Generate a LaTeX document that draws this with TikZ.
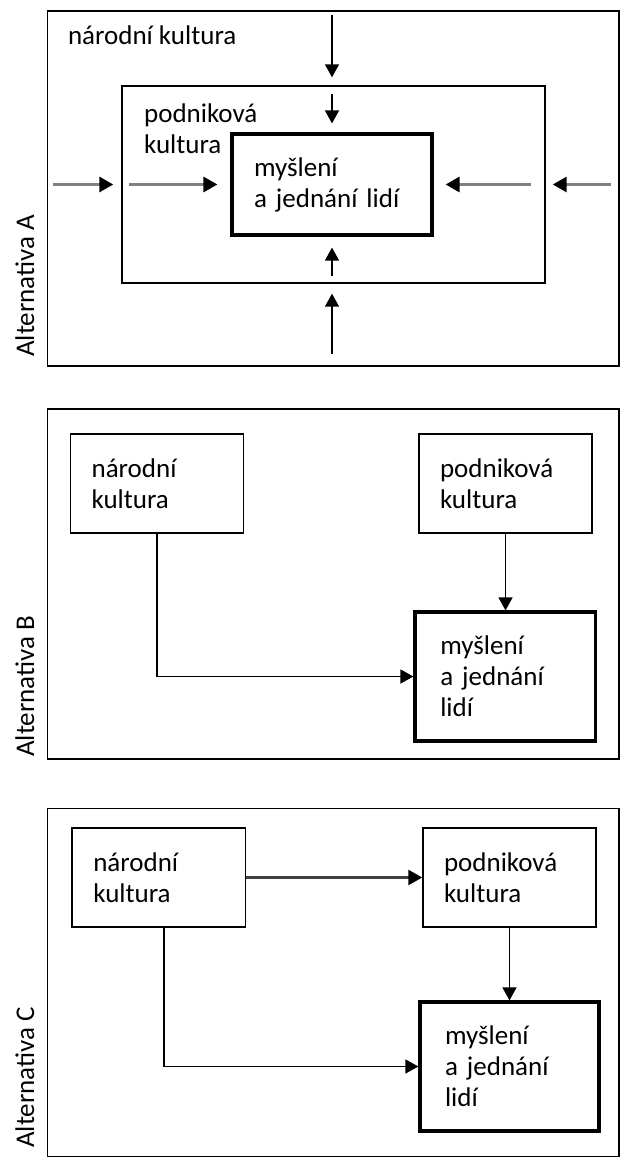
\documentclass[tikz,border=0pt]{standalone}
\usepackage{fontspec}
\setmainfont{Carlito}
\usepackage{tikz}
\usetikzlibrary{calc}
\usetikzlibrary{arrows.meta,positioning}
\tikzset{
	box/.style={draw,rectangle,line width=1.4pt,inner xsep=21pt,align=left,font=\fontsize{27}{31}\selectfont},
	thickbox/.style={box,line width=3.2pt,inner xsep=25pt},
	txt/.style={inner sep=0pt,align=left,font=\fontsize{27}{31}\selectfont},
	arr/.style={line width=1.5pt,-{Triangle[length=13pt,width=14pt]}},
	grayarr/.style={line width=3pt,color=gray,-{Triangle[length=14pt,width=15pt,color=black]}},
	alt/.style={rotate=90,anchor=base west,inner sep=0pt,font=\fontsize{27}{31}\selectfont}
}
\begin{document}
\begin{tikzpicture}[x=1pt,y=-1pt]
		\useasboundingbox (0,0) rectangle (620,1158);
		\node[box,minimum width=571.5pt,minimum height=355pt] (outerA) at (333.25,188.5) {};
		\node[box,minimum width=423pt,minimum height=197pt] (podA) at (333.5,184.5) {};
		\node[thickbox,inner xsep=22pt,minimum width=200pt,minimum height=101pt,text width=156pt] (mysA) at (332,184.5) {myšlení\\a jednání lidí};
		\node[txt,anchor=base west] (natAtxt) at ($(outerA.north west)+(21,34)$) {národní kultura};
		\node[txt,anchor=base west] (podAtxt) at ($(podA.north west)+(22.6,68)$) {podniková\\kultura};
		\node[alt] (altA) at (34,357) {Alternativa A};
		\draw[arr,shorten <=5pt,shorten >=8pt] (outerA.north -| mysA.north) -- (podA.north -| mysA.north);
		\draw[arr,shorten <=9pt,shorten >=9pt] (podA.north -| mysA.north) -- (mysA.north);
		\draw[arr,shorten <=8pt,shorten >=11pt] (podA.south -| mysA.south) -- (mysA.south);
		\draw[arr,shorten <=13pt,shorten >=10pt] (outerA.south -| mysA.south) -- (podA.south -| mysA.south);
		\draw[grayarr,shorten <=6pt,shorten >=8pt] (outerA.west |- mysA.west) -- (podA.west |- mysA.west);
		\draw[grayarr,shorten <=8pt,shorten >=13pt] (podA.west |- mysA.west) -- (mysA.west);
		\draw[grayarr,shorten <=15pt,shorten >=12pt] (podA.east |- mysA.east) -- (mysA.east);
		\draw[grayarr,shorten <=9pt,shorten >=7pt] (outerA.east |- mysA.east) -- (podA.east |- mysA.east);

		\node[box,minimum width=571.5pt,minimum height=350pt] (outerB) at (333.25,584) {};
		\node[box,minimum width=173pt,minimum height=99pt,text width=131pt] (natB) at (157.1,483.5) {národní\\kultura};
		\node[box,minimum width=173pt,minimum height=99pt,text width=131pt] (podB) at (505.5,483.5) {podniková\\kultura};
		\node[thickbox,minimum width=180.5pt,minimum height=129pt,text width=130pt] (mysB) at (505.25,676.5) {myšlení\\a jednání\\lidí};
		\node[alt] (altB) at (34,757) {Alternativa B};
		\draw[arr] (podB.south) -- (podB.south |- mysB.north);
		\draw[arr] (natB.south) |- (mysB.west);

		\node[box,minimum width=571.5pt,minimum height=348pt] (outerC) at (333.25,982.5) {};
		\node[box,minimum width=173.6pt,minimum height=99pt,text width=131pt] (natC) at (158.8,877.5) {národní\\kultura};
		\node[box,minimum width=173pt,minimum height=99pt,text width=131pt] (podC) at (509.5,877.5) {podniková\\kultura};
		\node[thickbox,minimum width=179pt,minimum height=129pt,text width=129pt] (mysC) at (509.5,1066.5) {myšlení\\a jednání\\lidí};
		\node[alt] (altC) at (34,1148) {Alternativa C};
		\draw[grayarr,line width=2.4pt,color=darkgray] (natC.east) -- (podC.west);
		\draw[arr] (podC.south) -- (podC.south |- mysC.north);
		\draw[arr] ([xshift=5pt]natC.south) |- (mysC.west);
	\end{tikzpicture}
\end{document}
